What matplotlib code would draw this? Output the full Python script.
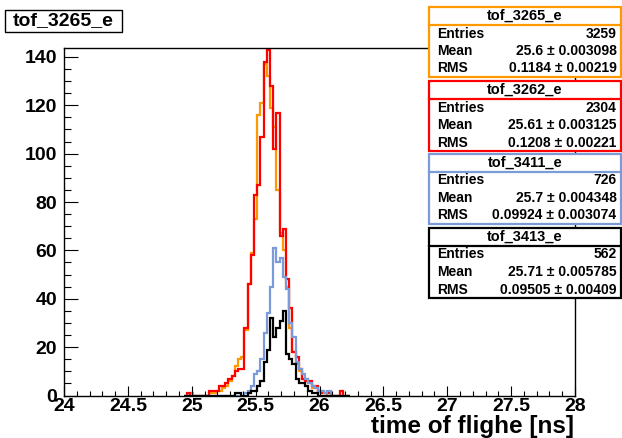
import numpy as np
import matplotlib
matplotlib.use("Agg")
import matplotlib.pyplot as plt
from matplotlib.patches import Rectangle
from matplotlib.lines import Line2D
from matplotlib.ticker import MultipleLocator

plt.rcParams['font.family'] = ['Liberation Sans', 'DejaVu Sans']

# ---------------- data ----------------
bin_start = 24.9375
bin_width = 0.025
n_bins = 52

tof_3265 = [0, 0, 1, 0, 0, 0, 0, 0, 1, 1, 2, 2, 3, 4, 6, 8, 12, 15, 16, 27, 46, 59, 73, 116, 121, 137,
            132, 119, 111, 85, 67, 60, 45, 28, 18, 13, 10, 7, 7, 5, 3, 3, 2, 1, 1, 0, 0, 0, 0, 0, 0, 0]
tof_3262 = [0, 1, 0, 0, 0, 0, 0, 0, 2, 2, 2, 4, 4, 5, 7, 8, 10, 11, 11, 28, 46, 58, 83, 87, 107, 138,
            143, 128, 102, 117, 66, 69, 48, 36, 18, 16, 11, 7, 6, 6, 4, 4, 2, 1, 1, 1, 0, 0, 0, 2, 0, 0]
tof_3411 = [0, 0, 0, 0, 0, 0, 0, 0, 0, 0, 0, 0, 0, 0, 0, 0, 0, 0, 0, 1, 2, 4, 9, 10, 15, 26,
            34, 45, 61, 55, 57, 49, 44, 30, 24, 14, 11, 9, 7, 5, 4, 3, 2, 2, 1, 2, 0, 0, 0, 0, 0, 0]
tof_3413 = [0, 0, 0, 0, 0, 0, 0, 0, 0, 0, 0, 0, 0, 0, 0, 0, 1, 1, 0, 0, 1, 2, 2, 4, 6, 14,
            19, 32, 24, 28, 31, 35, 17, 15, 13, 7, 5, 5, 4, 2, 1, 1, 0, 0, 0, 0, 0, 0, 0, 0, 0, 0]

hist_names = ["tof_3265_e", "tof_3262_e", "tof_3411_e", "tof_3413_e"]
hist_colors = ["#ff9900", "#ff0000", "#7b9bd8", "#000000"]
entries = ["3259", "2304", "726", "562"]
means = ["25.6 \u00b1 0.003098", "25.61 \u00b1 0.003125", "25.7 \u00b1 0.004348", "25.71 \u00b1 0.005785"]
rmss = ["0.1184 \u00b1 0.00219", "0.1208 \u00b1 0.00221", "0.09924 \u00b1 0.003074", "0.09505 \u00b1 0.00409"]

x_ticks = [24, 24.5, 25, 25.5, 26, 26.5, 27, 27.5, 28]
x_ticklabels = ["24", "24.5", "25", "25.5", "26", "26.5", "27", "27.5", "28"]
y_ticks = [0, 20, 40, 60, 80, 100, 120, 140]
title_text = "tof_3265_e"
xlabel_text = "time of flighe [ns]"

edges = bin_start + bin_width * np.arange(n_bins + 1)

# ---------------- figure ----------------
W, H = 622, 438
fig = plt.figure(figsize=(W / 100, H / 100), dpi=100)
fig.patch.set_facecolor("white")

def fx(px):
    return px / W

def fy(py):
    return 1 - py / H

ax = fig.add_axes([fx(64), fy(395.5), fx(575) - fx(64), fy(47.5) - fy(395.5)])
ax.set_xlim(24, 28)
ax.set_ylim(0, 143.9)

for vals, col in zip([tof_3265, tof_3262, tof_3411, tof_3413], hist_colors):
    ax.stairs(vals, edges, color=col, lw=1.6, baseline=0)

ax.set_xticks(x_ticks)
ax.set_xticklabels(x_ticklabels)
ax.set_yticks(y_ticks)
ax.xaxis.set_minor_locator(MultipleLocator(0.1))
ax.yaxis.set_minor_locator(MultipleLocator(5))
ax.tick_params(axis='both', which='both', direction='in', top=False, right=False,
               colors='black', width=0.8)
ax.tick_params(axis='x', which='major', length=7.5, labelsize=14, pad=2)
ax.tick_params(axis='x', which='minor', length=3.8)
ax.tick_params(axis='y', which='major', length=10, labelsize=14, pad=5)
ax.tick_params(axis='y', which='minor', length=5)
for lab in ax.get_xticklabels() + ax.get_yticklabels():
    lab.set_fontweight('bold')
for sp in ax.spines.values():
    sp.set_linewidth(1.0)

fig.text(fx(574), fy(433.5), xlabel_text, ha='right', va='baseline',
         fontsize=17.5, fontweight='bold')

# title box
fig.add_artist(Rectangle((fx(5), fy(32)), fx(122) - fx(5), fy(10) - fy(32),
                         transform=fig.transFigure, facecolor='white',
                         edgecolor='black', lw=1.0))
fig.text(fx(63.5), fy(21), title_text, ha='center', va='center',
         fontsize=14, fontweight='bold')

# stats boxes
box_tops = [7, 81, 154, 228]
box_h = 69.5
for top, name, col, ent, mn, rm in zip(box_tops, hist_names, hist_colors, entries, means, rmss):
    fig.add_artist(Rectangle((fx(428.5), fy(top + box_h)), fx(621) - fx(428.5),
                             fy(top) - fy(top + box_h), transform=fig.transFigure,
                             facecolor='white', edgecolor=col, lw=1.6, zorder=5))
    fig.add_artist(Line2D([fx(428.5), fx(621)], [fy(top + 17.5), fy(top + 17.5)],
                          transform=fig.transFigure, color=col, lw=1.6, zorder=6))
    fig.text(fx(525), fy(top + 9), name, ha='center', va='center',
             fontsize=10.5, fontweight='bold', zorder=7)
    for j, (lbl, val) in enumerate(zip(["Entries", "Mean", "RMS"], [ent, mn, rm])):
        yy = top + 26.5 + j * 17.5
        fig.text(fx(437), fy(yy), lbl, ha='left', va='center',
                 fontsize=10, fontweight='bold', zorder=7)
        fig.text(fx(616.5), fy(yy), val, ha='right', va='center',
                 fontsize=10, fontweight='bold', zorder=7)

fig.savefig("out.png", dpi=100)
